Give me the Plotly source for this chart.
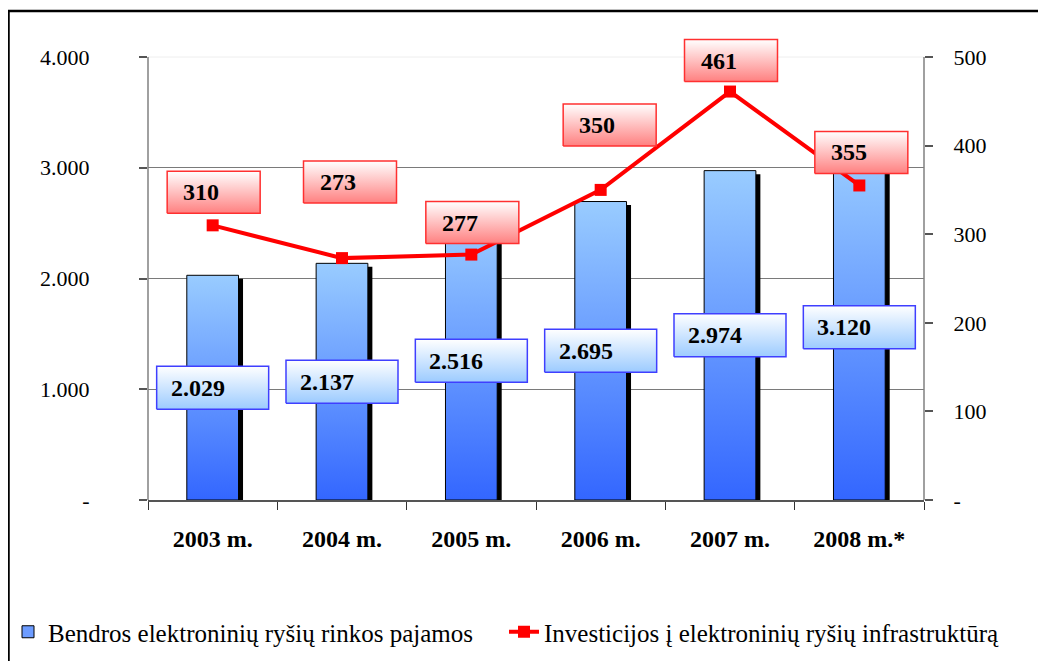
import plotly.graph_objects as go

# ---- data ----
categories = ["2003 m.", "2004 m.", "2005 m.", "2006 m.", "2007 m.", "2008 m.*"]
revenue = [2029, 2137, 2516, 2695, 2974, 3120]
revenue_labels = ["2.029", "2.137", "2.516", "2.695", "2.974", "3.120"]
investment = [310, 273, 277, 350, 461, 355]
investment_labels = ["310", "273", "277", "350", "461", "355"]
left_tickvals = [0, 1000, 2000, 3000, 4000]
left_ticktext = ["-", "1.000", "2.000", "3.000", "4.000"]
right_tickvals = [0, 100, 200, 300, 400, 500]
right_ticktext = ["-", "100", "200", "300", "400", "500"]
name_rev = "Bendros elektroninių ryšių rinkos pajamos"
name_inv = "Investicijos į elektroninių ryšių infrastruktūrą"

# ---- style / layout constants (pixels) ----
PAGE_OFF = 8                       # default body margin of the html page
W, H = 1046 - PAGE_OFF, 661 - PAGE_OFF
ML, MR, MT, MB = 148 - PAGE_OFF, 122, 38 - PAGE_OFF, 161
PW, PH = W - ML - MR, H - MT - MB
AXIS_PX = 443                      # pixel height of 0..4000 (0..500)
Y1_MAX, Y2_MAX = 4000, 500
y1_per_px = Y1_MAX / AXIS_PX
y2_per_px = Y2_MAX / AXIS_PX
x_per_px = len(categories) / PW
FONT = "Liberation Serif"
BAR_HALF = 0.2
SHADOW_DX_PX, SHADOW_DY_PX = 4.5, 3.5
inv_label_lift_px = [33, 76, 32, 65, 31, 33]
inv_label_dx_px = [1, 8, 1, 9, 1, 2]
LEGEND_ROW_Y = 632


def rect(x0, x1, y0, y1):
    return [x0, x1, x1, x0, x0], [y0, y0, y1, y1, y0]


def px_y(page_y):
    """page pixel row -> paper y"""
    return (MT + PH - (page_y - PAGE_OFF)) / PH


def px_x(page_x):
    """page pixel column -> paper x"""
    return (page_x - PAGE_OFF - ML) / PW


fig = go.Figure()

# legend-only entry for the revenue bars
fig.add_trace(go.Bar(x=[None], y=[None], name=name_rev, legend="legend",
                     marker=dict(color="#6D9CFF", line=dict(color="black", width=1))))

# shadows
for i, v in enumerate(revenue):
    dx = SHADOW_DX_PX * x_per_px
    xs, ys = rect(i - BAR_HALF + dx, i + BAR_HALF + dx, 0, v - SHADOW_DY_PX * y1_per_px)
    fig.add_trace(go.Scatter(x=xs, y=ys, fill="toself", mode="lines",
                             line=dict(color="black", width=0), fillcolor="black",
                             showlegend=False, hoverinfo="skip"))

# bars with gradient
for i, v in enumerate(revenue):
    xs, ys = rect(i - BAR_HALF, i + BAR_HALF, 0, v)
    fig.add_trace(go.Scatter(
        x=xs, y=ys, fill="toself", mode="lines",
        line=dict(color="black", width=1),
        fillgradient=dict(type="vertical", colorscale=[[0, "#3366FF"], [1, "#99CCFF"]]),
        showlegend=False, hoverinfo="skip"))

# revenue label boxes
BOX_HW_PX, BOX_HH_PX = 56, 21.5
for i, v in enumerate(revenue):
    cy = v / 2
    xs, ys = rect(i - BOX_HW_PX * x_per_px, i + BOX_HW_PX * x_per_px,
                  cy - BOX_HH_PX * y1_per_px, cy + BOX_HH_PX * y1_per_px)
    fig.add_trace(go.Scatter(
        x=xs, y=ys, fill="toself", mode="lines",
        line=dict(color="#3F3FFF", width=1.5),
        fillgradient=dict(type="vertical", colorscale=[[0, "#9CCBFF"], [1, "#FFFFFF"]]),
        showlegend=False, hoverinfo="skip"))
    fig.add_annotation(x=i, y=cy, xref="x", yref="y", text="<b>%s</b>" % revenue_labels[i],
                       xanchor="left", yanchor="middle", xshift=-BOX_HW_PX + 12,
                       showarrow=False, font=dict(family=FONT, size=24, color="black"))

# investment line
fig.add_trace(go.Scatter(
    x=list(range(len(categories))), y=investment, yaxis="y2", mode="lines+markers",
    line=dict(color="#FF0000", width=4),
    marker=dict(symbol="square", size=12, color="#FF0000"),
    name=name_inv, legend="legend2", hoverinfo="skip"))

# investment label boxes
RBOX_HW_PX, RBOX_HH_PX = 46.5, 21
for i, v in enumerate(investment):
    cx = i + inv_label_dx_px[i] * x_per_px
    cy = v + inv_label_lift_px[i] * y2_per_px
    xs, ys = rect(cx - RBOX_HW_PX * x_per_px, cx + RBOX_HW_PX * x_per_px,
                  cy - RBOX_HH_PX * y2_per_px, cy + RBOX_HH_PX * y2_per_px)
    fig.add_trace(go.Scatter(
        x=xs, y=ys, yaxis="y2", fill="toself", mode="lines",
        line=dict(color="#FF3030", width=1.5),
        fillgradient=dict(type="vertical", colorscale=[[0, "#FF8080"], [1, "#FFFFFF"]]),
        showlegend=False, hoverinfo="skip"))
    fig.add_annotation(x=cx, y=cy, xref="x", yref="y2", text="<b>%s</b>" % investment_labels[i],
                       xanchor="left", yanchor="middle", xshift=-RBOX_HW_PX + 14,
                       showarrow=False, font=dict(family=FONT, size=24, color="black"))

tickfont = dict(family=FONT, size=22, color="black")
legend_style = dict(orientation="h", xref="container", yref="container",
                    y=1 - (LEGEND_ROW_Y - PAGE_OFF) / H, xanchor="left", yanchor="middle",
                    font=dict(family=FONT, size=25, color="black"),
                    bgcolor="rgba(0,0,0,0)", itemwidth=30)

fig.update_layout(
    width=W, height=H,
    margin=dict(l=ML, r=MR, t=MT, b=MB, autoexpand=False),
    paper_bgcolor="white", plot_bgcolor="white",
    font=dict(family=FONT, color="black"),
    xaxis=dict(
        range=[-0.5, len(categories) - 0.5], automargin=False,
        tickvals=list(range(len(categories))), ticktext=categories,
        tickfont=dict(family=FONT, size=24, color="black", weight="bold"),
        ticks="", showgrid=False, zeroline=False,
        showline=True, linecolor="#555555", linewidth=1.5,
        minor=dict(tickvals=[k - 0.5 for k in range(len(categories) + 1)],
                   ticks="outside", ticklen=8, tickcolor="#333333", tickwidth=1),
        ticklabelstandoff=16,
    ),
    yaxis=dict(
        range=[0, Y1_MAX * PH / AXIS_PX], automargin=False,
        tickvals=left_tickvals, ticktext=left_ticktext, tickfont=tickfont,
        ticks="outside", ticklen=8, tickcolor="#555555", tickwidth=1.5,
        showgrid=False, zeroline=False, showline=False,
        minor=dict(tickvals=[1000, 2000, 3000], showgrid=True,
                   gridcolor="#7A7A7A", gridwidth=1.2, ticks=""),
        ticklabelstandoff=45,
    ),
    yaxis2=dict(
        range=[0, Y2_MAX * PH / AXIS_PX], overlaying="y", side="right", automargin=False,
        tickvals=right_tickvals, ticktext=right_ticktext, tickfont=tickfont,
        ticks="outside", ticklen=8, tickcolor="#555555", tickwidth=1.5,
        showgrid=False, zeroline=False, showline=False,
        ticklabelstandoff=16,
    ),
    legend=dict(legend_style, x=-14 / W),
    legend2=dict(legend_style, x=(550 - PAGE_OFF - 46) / W),
    shapes=[
        # faint top gridline
        dict(type="line", xref="paper", yref="y", x0=0, x1=1, y0=4000, y1=4000,
             line=dict(color="#EEEEEE", width=1), layer="below"),
        # left axis line
        dict(type="line", xref="paper", yref="y", x0=0, x1=0, y0=0, y1=4000,
             line=dict(color="#808080", width=1.5)),
        # right axis line
        dict(type="line", xref="paper", yref="y2", x0=1, x1=1, y0=0, y1=500,
             line=dict(color="#808080", width=1.5)),
        # outer frame (top and left edges visible)
        dict(type="rect", xref="paper", yref="paper",
             x0=px_x(8.5), x1=px_x(1080), y0=px_y(700), y1=px_y(11),
             line=dict(color="black", width=2.5), fillcolor="rgba(0,0,0,0)"),
    ],
)

fig.write_html("out.html")
